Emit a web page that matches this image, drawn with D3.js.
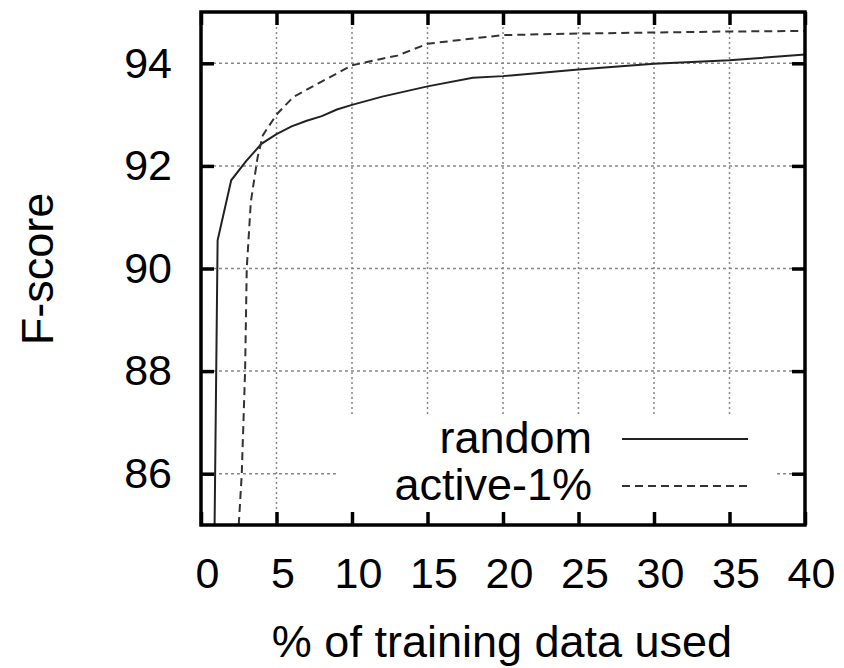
<!DOCTYPE html>
<html>
<head>
<meta charset="utf-8">
<script src="https://cdn.jsdelivr.net/npm/d3@7"></script>
<style>
    body { margin: 0; background: #fff; }
    text { font-family: "Liberation Sans", Arial, sans-serif; fill: #000; }
</style>
</head>
<body>
<svg id="chart" width="844" height="668"></svg>
<script>
//data
let randomX = [0.9, 1.1, 2.0, 3.0, 4.0, 5.0, 6.0, 7.0, 8.0, 9.0, 10, 12, 15, 18, 20, 25, 30, 35, 40];
let randomY = [85.0, 90.55, 91.72, 92.1, 92.43, 92.62, 92.77, 92.88, 92.97, 93.1, 93.19, 93.35, 93.55, 93.72, 93.75, 93.88, 93.99, 94.06, 94.17];
let activeX = [2.5, 2.7, 2.92, 3.03, 3.3, 3.75, 4.1, 5.0, 6.1, 7.9, 10, 12, 13, 15, 17, 20, 25, 30, 35, 40];
let activeY = [85.0, 86.0, 88.0, 90.0, 91.3, 92.17, 92.6, 93.0, 93.34, 93.63, 93.96, 94.09, 94.15, 94.38, 94.45, 94.55, 94.58, 94.6, 94.62, 94.63];
let xTicks = [0, 5, 10, 15, 20, 25, 30, 35, 40];
let yTicks = [86, 88, 90, 92, 94];
let seriesNames = ["random", "active-1%"];

let plotLeft = 201, plotTop = 12, plotRight = 805, plotBottom = 525;
let svg = d3.select("#chart");

let x = d3.scaleLinear().domain([0, 40]).range([plotLeft, plotRight]);
let y = d3.scaleLinear().domain([85, 95]).range([plotBottom, plotTop]);

//grid lines
svg.append("g").selectAll("line")
    .data(xTicks.slice(1, -1))
    .join("line")
    .attr("x1", d => x(d)).attr("x2", d => x(d))
    .attr("y1", plotTop).attr("y2", plotBottom)
    .attr("stroke", "#888").attr("stroke-width", 1.5)
    .attr("stroke-dasharray", "2,3");
svg.append("g").selectAll("line")
    .data(yTicks)
    .join("line")
    .attr("x1", plotLeft).attr("x2", plotRight)
    .attr("y1", d => y(d)).attr("y2", d => y(d))
    .attr("stroke", "#888").attr("stroke-width", 1.5)
    .attr("stroke-dasharray", "3,3");

//legend box hides the grid behind it
svg.append("rect")
    .attr("x", 338).attr("y", 415)
    .attr("width", 438).attr("height", plotBottom - 415)
    .attr("fill", "#fff");

//curves
svg.append("clipPath").attr("id", "clip")
    .append("rect")
    .attr("x", plotLeft).attr("y", plotTop)
    .attr("width", plotRight - plotLeft).attr("height", plotBottom - plotTop);

let line = d3.line().x(d => x(d[0])).y(d => y(d[1]));
let randomData = randomX.map((d, i) => [d, randomY[i]]);
let activeData = activeX.map((d, i) => [d, activeY[i]]);

svg.append("path")
    .attr("clip-path", "url(#clip)")
    .attr("d", line(randomData))
    .attr("fill", "none").attr("stroke", "#222").attr("stroke-width", 2);
svg.append("path")
    .attr("clip-path", "url(#clip)")
    .attr("d", line(activeData))
    .attr("fill", "none").attr("stroke", "#333").attr("stroke-width", 2)
    .attr("stroke-dasharray", "8,5");

//axes, ticks point inward and are mirrored
function styleAxis(g) {
    g.select(".domain").remove();
    g.selectAll(".tick line").attr("stroke", "#000").attr("stroke-width", 3.5);
    g.selectAll(".tick text").style("font-size", "43px");
}
svg.append("g")
    .attr("transform", `translate(0,${plotBottom})`)
    .call(d3.axisBottom(x).tickValues(xTicks).tickSizeInner(-13).tickSizeOuter(0).tickPadding(32))
    .call(styleAxis)
    .selectAll(".tick text").attr("dx", 6);
svg.append("g")
    .attr("transform", `translate(0,${plotTop})`)
    .call(d3.axisTop(x).tickValues(xTicks).tickSizeInner(-13).tickSizeOuter(0).tickFormat(""))
    .call(styleAxis);
svg.append("g")
    .attr("transform", `translate(${plotLeft},0)`)
    .call(d3.axisLeft(y).tickValues(yTicks).tickSizeInner(-13).tickSizeOuter(0).tickPadding(29))
    .call(styleAxis);
svg.append("g")
    .attr("transform", `translate(${plotRight},0)`)
    .call(d3.axisRight(y).tickValues(yTicks).tickSizeInner(-13).tickSizeOuter(0).tickFormat(""))
    .call(styleAxis);

//frame
svg.append("rect")
    .attr("x", plotLeft).attr("y", plotTop)
    .attr("width", plotRight - plotLeft).attr("height", plotBottom - plotTop)
    .attr("fill", "none").attr("stroke", "#000").attr("stroke-width", 3.5);

//legend
let legend = svg.append("g");
legend.selectAll("text")
    .data(seriesNames)
    .join("text")
    .attr("x", 592).attr("y", (d, i) => 453 + i * 47)
    .attr("text-anchor", "end")
    .style("font-size", "45px")
    .text(d => d);
legend.selectAll("line")
    .data(seriesNames)
    .join("line")
    .attr("x1", 622).attr("x2", 748)
    .attr("y1", (d, i) => 439 + i * 47).attr("y2", (d, i) => 439 + i * 47)
    .attr("stroke", (d, i) => i === 0 ? "#222" : "#333")
    .attr("stroke-width", 2)
    .attr("stroke-dasharray", (d, i) => i === 0 ? null : "8,5");

//axis titles
svg.append("text")
    .attr("x", 502).attr("y", 657)
    .attr("text-anchor", "middle")
    .style("font-size", "45px")
    .text("% of training data used");
svg.append("text")
    .attr("transform", "translate(53,269) rotate(-90)")
    .attr("text-anchor", "middle")
    .style("font-size", "45px")
    .text("F-score");
</script>
</body>
</html>
